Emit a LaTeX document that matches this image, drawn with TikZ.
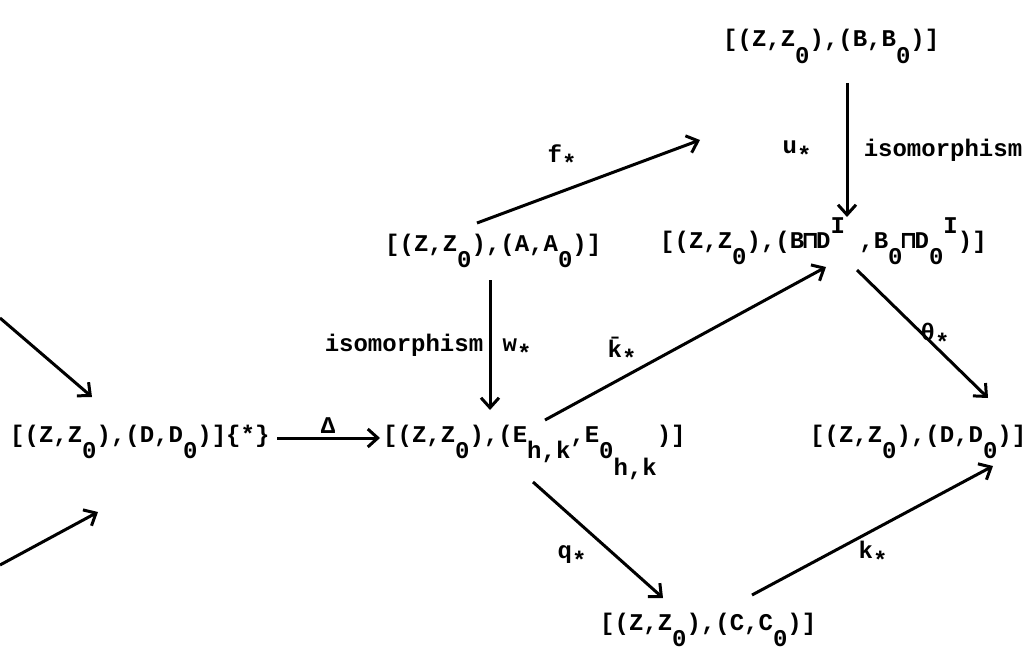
\documentclass[tikz,border=0pt]{standalone}
\usepackage{fontspec}
\setmonofont{Liberation Mono}
\newfontfamily\capfont{DejaVu Sans Mono}
\usetikzlibrary{arrows.meta,calc}
\newcommand{\dnx}[1]{\raisebox{-0.7em}{#1}}
\newcommand{\upx}[1]{\raisebox{0.6em}{#1}}
\newcommand{\lstar}{\raisebox{-0.4em}{*}}
\newcommand{\mcap}{\makebox[0.5em]{\capfont\bfseries ⊓}}
\tikzset{
  obj/.style={inner sep=0pt, anchor=base west, font=\fontsize{24}{28}\selectfont\ttfamily\bfseries},
  lab/.style={inner sep=0pt, font=\fontsize{24}{28}\selectfont\ttfamily\bfseries},
  arr/.style={line width=3pt, -{Straight Barb[length=10pt,width=18pt]}}
}
\begin{document}
\begin{tikzpicture}[x=1pt,y=-1pt]
\useasboundingbox (0,0) rectangle (1028,650);
\fill[white] (0,0) rectangle (1028,650);
% objects
\node[obj] (n1) at (10,442) {[(Z,Z\dnx{0}),(D,D\dnx{0})]\{*\}};
\node[obj] (n2) at (383,442) {[(Z,Z\dnx{0}),(E\dnx{h,k},E\dnx{0\dnx{h,k}})]};
\node[obj] (n3) at (385,251) {[(Z,Z\dnx{0}),(A,A\dnx{0})]};
\node[obj] (n4) at (723,47) {[(Z,Z\dnx{0}),(B,B\dnx{0})]};
\node[obj] (n5) at (660,248) {[(Z,Z\dnx{0}),(B\mcap D\upx{I} ,B\dnx{0}\mcap D\dnx{0}\upx{I})]};
\node[obj] (n6) at (810,442) {[(Z,Z\dnx{0}),(D,D\dnx{0})]};
\node[obj] (n7) at (600,630) {[(Z,Z\dnx{0}),(C,C\dnx{0})]};
\coordinate (lu) at (0,318);
\coordinate (ll) at (0,565);
% arrows
\draw[arr] ($(n1.base west)+(267,-4)$) -- ($(n2.base west)+(-3,-4)$);
\draw[arr] ($(n3.base west)+(92,-28)$) -- ($(n4.base west)+(-23,93)$);
\draw[arr] ($(n4.base west)+(124,36)$) -- ($(n5.base west)+(187,-31)$);
\draw[arr] ($(n3.base west)+(105,29)$) -- ($(n2.base west)+(107,-32)$);
\draw[arr] ($(n2.base west)+(162,-22)$) -- ($(n5.base west)+(166,19)$);
\draw[arr] ($(n5.base west)+(197,22)$) -- ($(n6.base west)+(178,-44)$);
\draw[arr] ($(n2.base west)+(150,40)$) -- ($(n7.base west)+(63,-32)$);
\draw[arr] ($(n7.base west)+(152,-35)$) -- ($(n6.base west)+(183,24)$);
\draw[arr] (lu) -- ($(n1.base west)+(82,-45)$);
\draw[arr] (ll) -- ($(n1.base west)+(88,70)$);
% labels
\node[lab] (lDelta) at (328,426) {Δ};
\node[lab] (lf) at (562,158) {f\lstar};
\node[lab] (lu1) at (797,152) {u\lstar};
\node[lab] (liso1) at (943,150) {isomorphism};
\node[lab] (liso2) at (404,345) {isomorphism};
\node[lab] (lw) at (517,350) {w\lstar};
\node[lab] (lkb) at (622,352) {\={k}\lstar};
\node[lab] (lth) at (935,337) {θ\lstar};
\node[lab] (lq) at (572,557) {q\lstar};
\node[lab] (lk) at (873,555) {k\lstar};
\end{tikzpicture}
\end{document}
